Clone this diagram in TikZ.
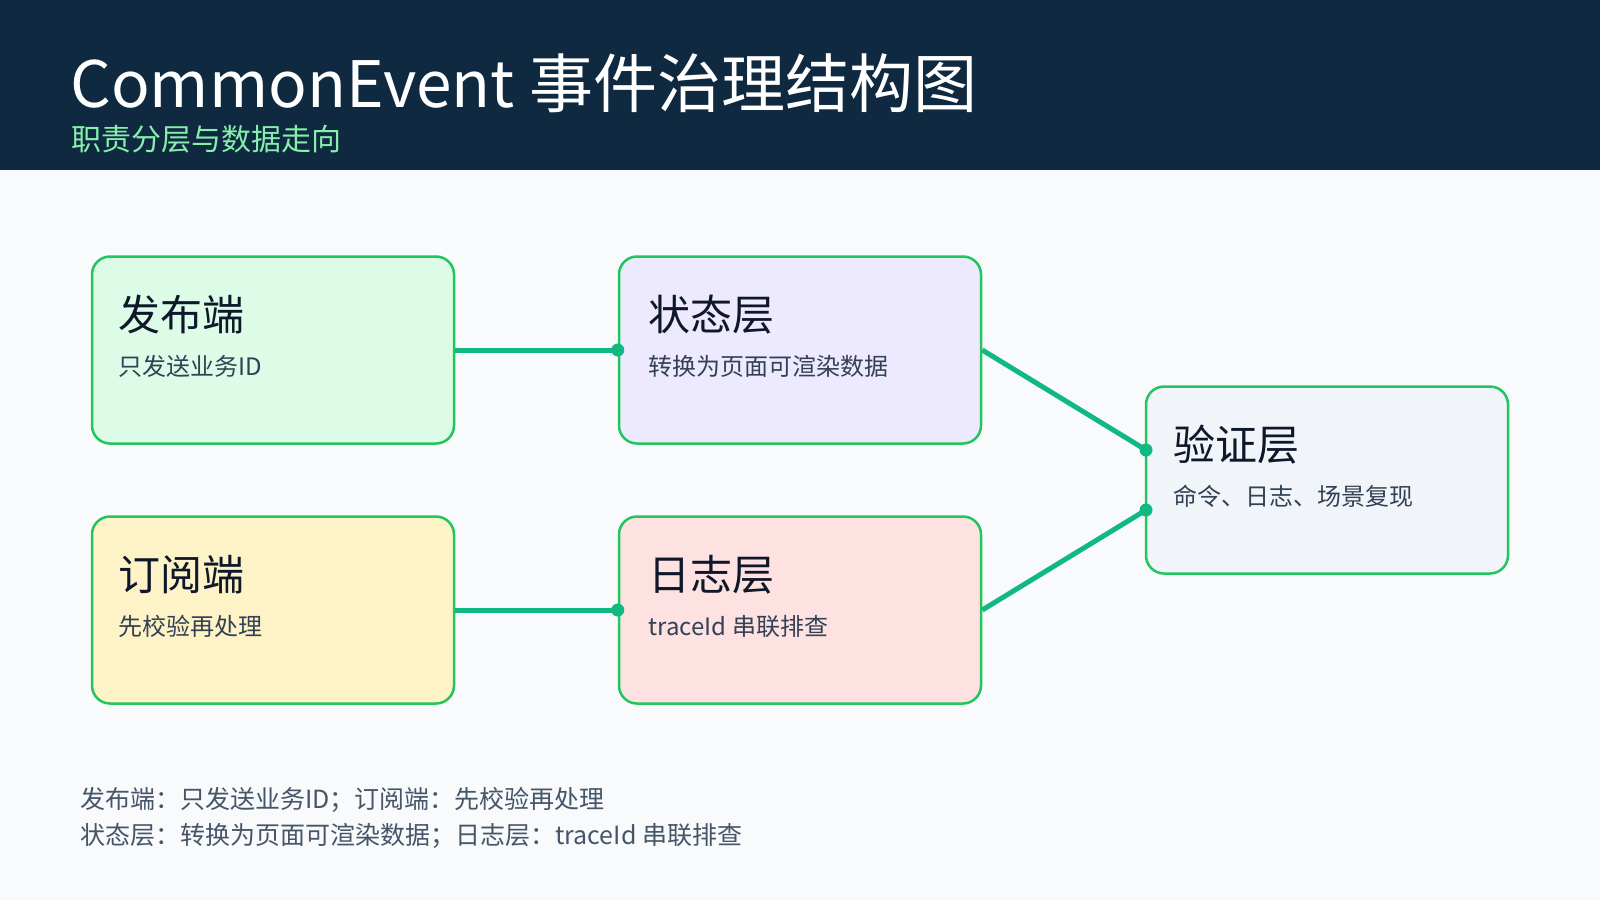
\documentclass[tikz,border=0pt]{standalone}
\usepackage{fontspec}
\setmainfont{Noto Sans CJK SC}
\definecolor{bg}{HTML}{F8FAFC}
\definecolor{hdr}{HTML}{0F2940}
\definecolor{sub}{HTML}{86EFAC}
\definecolor{bd}{HTML}{22C55E}
\definecolor{ln}{HTML}{10B981}
\definecolor{tx}{HTML}{0F172A}
\definecolor{st}{HTML}{334155}
\definecolor{ft}{HTML}{475569}
\definecolor{cA}{HTML}{DCFCE7}
\definecolor{cB}{HTML}{EDE9FE}
\definecolor{cC}{HTML}{F1F5F9}
\definecolor{cD}{HTML}{FEF3C7}
\definecolor{cE}{HTML}{FEE2E2}
\begin{document}
\begin{tikzpicture}[x=1pt,y=-1pt,
  box/.style={draw=bd,line width=2.5pt,rounded corners=18pt,minimum width=362pt,minimum height=187pt,inner sep=0pt},
  ttl/.style={anchor=west,text=tx,font=\fontsize{42}{46}\selectfont},
  sbt/.style={anchor=west,text=st,font=\fontsize{24}{28}\selectfont},
  con/.style={draw=ln,line width=5pt},
  dot/.style={circle,fill=ln,inner sep=0pt,minimum size=13pt}]
\useasboundingbox (0,0) rectangle (1600,900);
\fill[bg] (0,0) rectangle (1600,900);
\fill[hdr] (0,0) rectangle (1600,170);
\node[anchor=base west,text=white,font=\fontsize{64}{70}\selectfont,inner sep=0pt] (title) at (70,107) {CommonEvent 事件治理结构图};
\node[anchor=base west,text=sub,font=\fontsize{30}{34}\selectfont,inner sep=0pt] (subtitle) at (71,150) {职责分层与数据走向};

\node[box,fill=cA] (pub) at (273,350) {};
\node[box,fill=cB] (state) at (800,350) {};
\node[box,fill=cC] (ver) at (1327,480) {};
\node[box,fill=cD] (subs) at (273,610) {};
\node[box,fill=cE] (log) at (800,610) {};

\node[ttl] (t1) at (115,315) {发布端};
\node[sbt] (s1) at (115,366) {只发送业务ID};
\node[ttl] (t2) at (645,315) {状态层};
\node[sbt] (s2) at (645,366) {转换为页面可渲染数据};
\node[ttl] (t3) at (1170,445) {验证层};
\node[sbt] (s3) at (1170,496) {命令、日志、场景复现};
\node[ttl] (t4) at (115,575) {订阅端};
\node[sbt] (s4) at (115,626) {先校验再处理};
\node[ttl] (t5) at (645,575) {日志层};
\node[sbt] (s5) at (645,626) {traceId 串联排查};

\coordinate (vA) at (1146,450);
\coordinate (vB) at (1146,510);
\draw[con] (pub.east) -- (state.west);
\draw[con] (state.east) -- (vA);
\draw[con] (subs.east) -- (log.west);
\draw[con] (log.east) -- (vB);
\node[dot] (d1) at (state.west) {};
\node[dot] (d2) at (vA) {};
\node[dot] (d3) at (log.west) {};
\node[dot] (d4) at (vB) {};

\node[anchor=base west,text=ft,font=\fontsize{25}{29}\selectfont,inner sep=0pt] (f1) at (80,808) {发布端：只发送业务ID；订阅端：先校验再处理};
\node[anchor=base west,text=ft,font=\fontsize{25}{29}\selectfont,inner sep=0pt] (f2) at (80,844) {状态层：转换为页面可渲染数据；日志层：traceId 串联排查};
\end{tikzpicture}
\end{document}
